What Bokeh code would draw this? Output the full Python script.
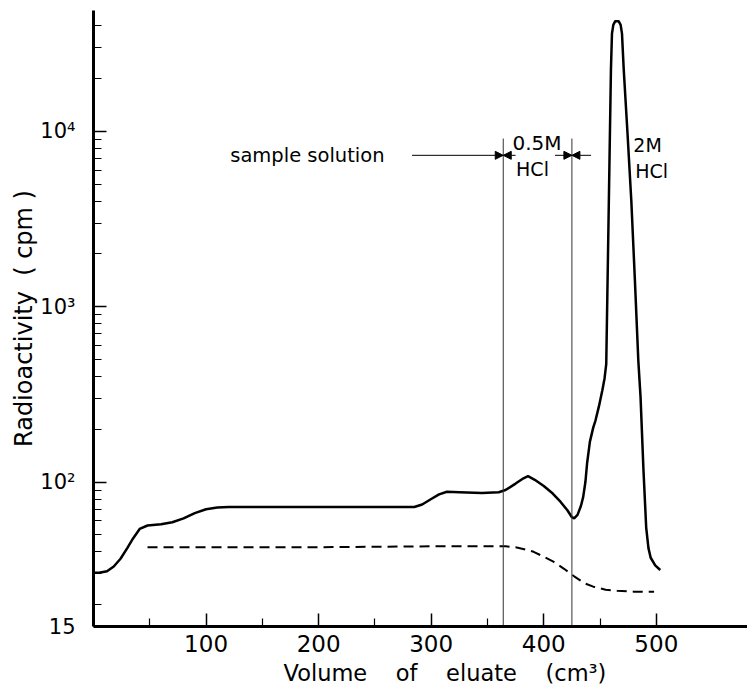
from bokeh.plotting import figure
from bokeh.models import Range1d, FixedTicker, Label, Arrow, NormalHead, Title
from bokeh.embed import file_html
from bokeh.resources import INLINE

FONT = "DejaVu Sans"

# --- data ---
volume_solid = [0, 5, 12, 18, 24, 30, 35, 41, 48, 60, 70, 80, 90, 100, 110, 120, 150, 200, 250, 285,
                292, 300, 307, 314, 325, 345, 360, 366, 375, 382, 386, 392, 400, 408, 415, 421, 425, 427,
                430, 433, 435, 437, 438.5, 441, 444, 446, 449, 452, 454, 455.5, 456.5, 457.5, 458.5,
                459.7, 460.6, 461.8, 463.5, 466.5, 468.3, 469.5, 471, 474.5, 477.8, 481, 484, 486,
                488.5, 491, 493, 495, 499, 503.5]
activity_solid = [30.4, 30.4, 31, 33, 36.5, 42, 47.5, 54, 56.5, 57.5, 59, 62, 66.5, 70, 71.5, 72, 72, 72, 72, 72,
                  74.5, 80, 85, 88, 87.5, 86.5, 87.5, 90, 98, 105, 108, 103, 95, 86, 77, 69, 63, 62,
                  65, 73, 82, 100, 128, 170, 205, 225, 270, 333, 390, 470, 1170, 2970, 7500,
                  22800, 36100, 40500, 42500, 42500, 40500, 36100, 22800, 9500, 4000, 1400, 493, 304,
                  120, 55, 42, 37, 33.5, 31.5]

volume_dashed = [48, 100, 200, 300, 366, 375, 385, 391, 400, 409, 418, 427, 436, 444, 455, 465, 480, 498]
activity_dashed = [42.5, 42.5, 42.5, 43, 43, 42.5, 41, 40, 37.5, 35, 32, 29, 26.5, 25.3, 24.3, 24, 23.7, 23.7]

boundary_volumes = [364, 425]
boundary_top = [9100, 9100]

x_major_ticks = [100, 200, 300, 400, 500]
x_minor_ticks = [50, 150, 250, 350, 450]
y_major_ticks = [15, 100, 1000, 10000]
y_major_labels = ["15", "10\u00b2", "10\u00b3", "10\u2074"]
y_minor_ticks = [20, 30, 40, 50, 60, 70, 80, 90,
                 200, 300, 400, 500, 600, 700, 800, 900,
                 2000, 3000, 4000, 5000, 6000, 7000, 8000, 9000,
                 20000, 30000, 40000]

GAP = "\u00a0" * 4
x_title = "Volume" + GAP + "of" + GAP + "eluate" + GAP + "(cm\u00b3)"
y_title = "Radioactivity\u00a0\u00a0(\u00a0cpm\u00a0)"

p = figure(width=747, height=692, y_axis_type="log",
           x_range=Range1d(0, 581), y_range=Range1d(15, 48900),
           output_backend="svg", toolbar_location=None,
           min_border_left=93, min_border_right=0, min_border_top=10, min_border_bottom=66)
p.outline_line_color = None
p.xgrid.visible = False
p.ygrid.visible = False
p.background_fill_color = "white"

for ax in (p.xaxis[0], p.yaxis[0]):
    ax.axis_line_width = 3
    ax.axis_line_color = "black"
    ax.major_tick_in = 13
    ax.major_tick_out = 0
    ax.minor_tick_in = 8
    ax.minor_tick_out = 0
    ax.major_tick_line_width = 1.5
    ax.minor_tick_line_width = 1.2
    ax.major_tick_line_color = "black"
    ax.minor_tick_line_color = "black"
    ax.major_label_text_font = FONT
    ax.major_label_text_color = "black"

p.xaxis.ticker = FixedTicker(ticks=x_major_ticks, minor_ticks=x_minor_ticks)
p.xaxis.major_label_text_font_size = "23px"
p.xaxis.major_label_standoff = 8

p.yaxis.ticker = FixedTicker(ticks=y_major_ticks, minor_ticks=y_minor_ticks)
p.yaxis.major_label_overrides = {t: s for t, s in zip(y_major_ticks, y_major_labels)}
p.yaxis.major_label_text_font_size = "21px"
p.yaxis.major_label_standoff = 18

# curves
p.line(volume_solid, activity_solid, line_width=2.5, line_color="black")
p.line(volume_dashed, activity_dashed, line_width=2, line_color="black", line_dash="10 6")

# eluent boundaries
p.segment(x0=boundary_volumes, y0=[15, 15], x1=boundary_volumes, y1=boundary_top,
          line_width=1, line_color="#333333")

# arrows
arrow_y = 7300
def head():
    return NormalHead(size=8, fill_color="black", line_color="black", line_width=1)
p.add_layout(Arrow(end=head(), x_start=283, y_start=arrow_y, x_end=364, y_end=arrow_y,
                   line_width=1, line_color="black"))
p.add_layout(Arrow(end=head(), x_start=375, y_start=arrow_y, x_end=364, y_end=arrow_y,
                   line_width=1, line_color="black"))
p.add_layout(Arrow(end=head(), x_start=410, y_start=arrow_y, x_end=425, y_end=arrow_y,
                   line_width=1, line_color="black"))
p.add_layout(Arrow(end=head(), x_start=442, y_start=arrow_y, x_end=425, y_end=arrow_y,
                   line_width=1, line_color="black"))

def lab(x, y, text, size, align="left"):
    p.add_layout(Label(x=x, y=y, text=text, text_font=FONT, text_font_size=size,
                       text_align=align, text_baseline="middle", text_color="black"))

lab(121.5, arrow_y, "sample solution", "19.5px")
lab(394, 8610, "0.5M", "20px", "center")
lab(390, 6080, "HCl", "19px", "center")
lab(479.6, 8320, "2M", "19px")
lab(481.3, 5970, "HCl", "19px")

# axis titles
p.add_layout(Title(text=x_title, align="left", offset=190, standoff=7,
                   text_font=FONT, text_font_size="22.5px", text_font_style="normal",
                   text_color="black"), "below")
p.add_layout(Title(text=y_title, align="center", offset=0, standoff=0,
                   text_font=FONT, text_font_size="24px", text_font_style="normal",
                   text_color="black"), "left")

open("out.html", "w").write(file_html(p, INLINE))
